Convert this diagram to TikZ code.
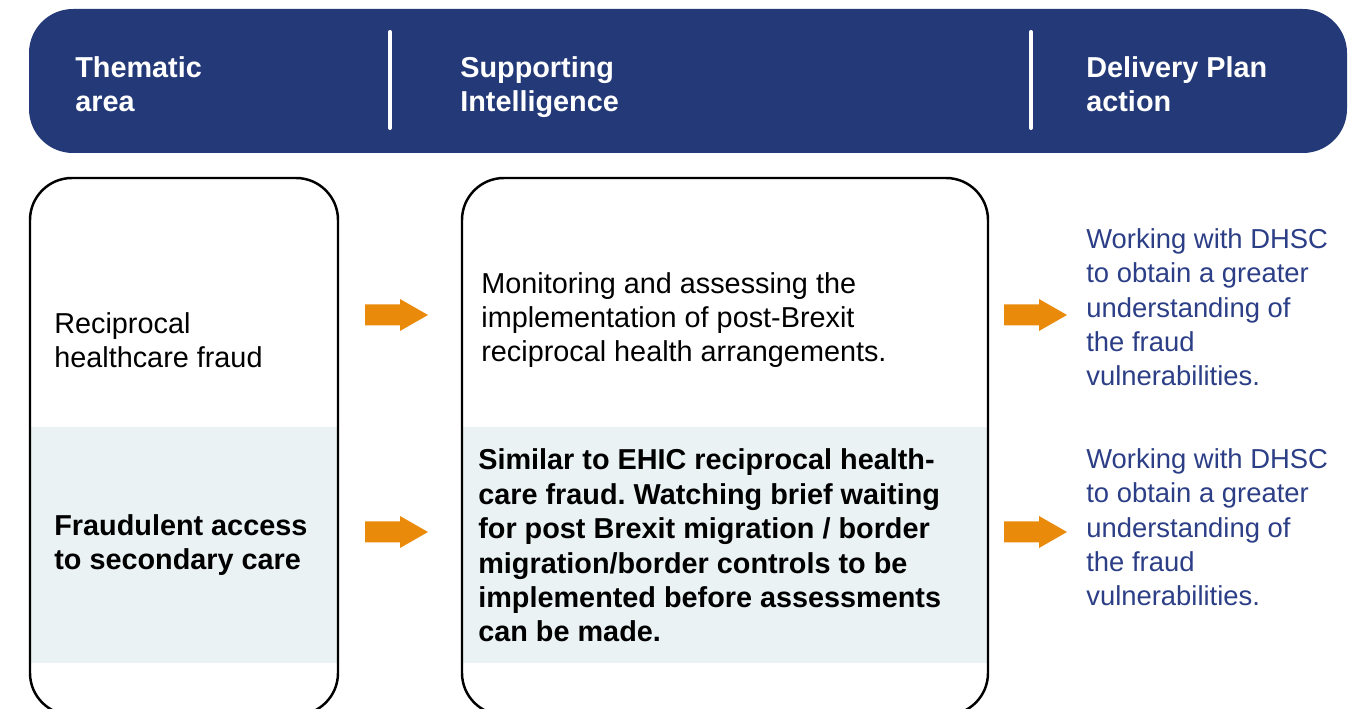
\documentclass[tikz,border=0pt]{standalone}
\usepackage{fontspec}
\setmainfont{Liberation Sans}
\usepackage{xcolor}
\definecolor{headblue}{HTML}{243A78}
\definecolor{actionblue}{HTML}{2B3E86}
\definecolor{bandgrey}{HTML}{EAF2F4}
\definecolor{arroworange}{HTML}{EA8A0B}
\frenchspacing

\newcommand{\boxsize}{\fontsize{16.4}{19.6}\selectfont}
\newcommand{\actionsize}{\fontsize{15.6}{19.6}\selectfont}

% base anchor of a multi-line node sits on its last line
\tikzset{
	headtext/.style={white, font=\boxsize\bfseries, anchor=base west, align=left, inner sep=0},
	bodytext/.style={black, font=\boxsize, anchor=base west, align=left, inner sep=0},
	boldtext/.style={bodytext, font=\boxsize\bfseries},
	actiontext/.style={actionblue, font=\actionsize, anchor=base west, align=left, inner sep=0},
	panel/.style={draw=black, line width=1.4pt, rounded corners=0.84cm},
}

\begin{document}
\begin{tikzpicture}[x=0.02cm, y=-0.02cm]
		\useasboundingbox (0,0) rectangle (1357,709);
		\def\rowa{315};
		\def\rowb{532};
		
		\fill [headblue, rounded corners=0.88cm] (29,9) rectangle (1347,153);
		\foreach \x in {390,1031}
			\draw [white, line width=2.3pt, line cap=round] (\x,32) -- (\x,128);
		
		\node [headtext] (thematic) at (75,112) {Thematic\\area};
		\node [headtext] (intel) at (460,112) {Supporting\\Intelligence};
		\node [headtext] (plan) at (1086,112) {Delivery Plan\\action};
		
		\fill [bandgrey] (31,427) rectangle (337,663);
		\fill [bandgrey] (463,427) rectangle (987,663);
		\draw [panel] (30,178) rectangle (338,715);
		\draw [panel] (462,178) rectangle (988,715);
		
		\node [bodytext] (areaa) at (54,368) {Reciprocal\\healthcare fraud};
		\node [boldtext] (areab) at (54,570) {Fraudulent access\\to secondary care};
		
		\node [bodytext] (intela) at (481,362) {Monitoring and assessing the\\implementation of post-Brexit\\reciprocal health arrangements.};
		\node [boldtext] (intelb) at (478,642) {Similar to EHIC reciprocal health-\\care fraud. Watching brief waiting\\for post Brexit migration / border\\migration/border controls to be\\implemented before assessments\\can be made.};
		
		\node [actiontext] (plana) at (1086,386) {Working with DHSC\\to obtain a greater\\understanding of\\the fraud\\vulnerabilities.};
		\node [actiontext] (planb) at (1086,606) {Working with DHSC\\to obtain a greater\\understanding of\\the fraud\\vulnerabilities.};
		
		\begin{scope}[arroworange]
			\foreach \x in {365,1004}
				\foreach \y in {\rowa,\rowb}
					\fill (\x,\y-10.5) -- ++(35,0) -- ++(0,-5.5) -- ++(28,16) -- ++(-28,16) -- ++(0,-5.5) -- ++(-35,0) -- cycle;
		\end{scope}
	\end{tikzpicture}
\end{document}
